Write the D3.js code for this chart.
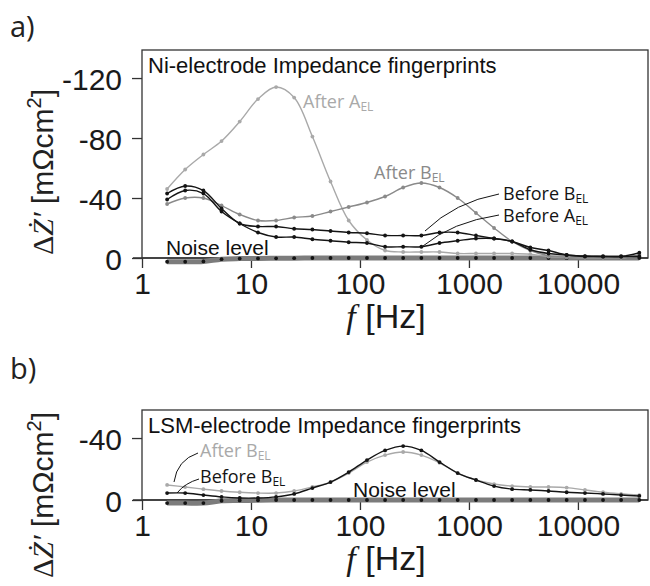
<!DOCTYPE html>
<html>
<head>
<meta charset="utf-8">
<script src="https://cdn.jsdelivr.net/npm/d3@7"></script>
<style>
  body { margin: 0; background: #fff; }
  svg { display: block; }
</style>
</head>
<body>
<svg id="chart" width="650" height="586"></svg>
<script>
// measurement frequencies, 6 per decade [Hz]
const freqs = [1.7, 2.49, 3.66, 5.37, 7.88, 11.6, 17.0, 24.9, 36.6, 53.7, 78.8, 116, 170,
  249, 366, 537, 788, 1160, 1700, 2490, 3660, 5370, 7880, 11600, 17000, 24900, 36600];
const xTicks = [1, 10, 100, 1000, 10000];

// panel a) Ni-electrode, dZ' in mOhm cm2
const niAfterA = [-46, -59, -69, -78, -91, -106, -114, -107, -81, -51, -25, -12, -5,
  -4, -4, -4, -3, -3, -3, -3, -2.5, -1, -0.5, 0, 0, 0, -2];
const niAfterB = [-36, -40, -40, -35, -29, -25, -25, -27, -28, -31, -34, -37, -41,
  -47, -50, -47, -40, -30, -20, -11, -5, -1.5, -0.5, 0, 0, 0, -2];
const niBeforeB = [-43, -48, -45, -33, -23, -21, -21, -19.5, -19, -18, -17, -16.5, -15,
  -15, -15, -17, -17, -15, -13, -11, -7, -5, -2, -1.3, -1, -1, -3.5];
const niBeforeA = [-39, -45, -43, -31, -23, -17, -14, -14, -12.5, -11.5, -10.5, -10, -7.5,
  -7.5, -7.5, -10, -11.5, -13, -13, -11, -5.5, -3, -2, -1, -1, -1, -1];
const niNoise = [2.5, 2.5, 2.3, 0.8, 0.4, 0.3, 0.2, 0.1, 0, 0, 0, 0, 0,
  0, 0, 0, 0, 0, 0, 0, 0, 0, 0, 0, 0, 0, 0];
const niTicks = [-120, -80, -40, 0];

// panel b) LSM-electrode
const lsmAfterB = [-9.7, -8.4, -7, -5.8, -5, -4.5, -4.5, -5.8, -8.4, -11.6, -17.4, -24.5, -29,
  -31, -29, -24, -17.4, -12.9, -10.3, -9, -8.4, -8.4, -8, -6.5, -5, -4, -3.2];
const lsmBeforeB = [-4.5, -4.5, -3.2, -2, -1.3, -1.3, -2, -3.9, -7.7, -11.6, -18, -25.8, -32,
  -34.8, -32, -24.5, -17.4, -12.9, -9, -7, -6.5, -5.8, -5, -4.5, -3.9, -3.2, -2.6];
const lsmNoise = [2, 2, 2, 0.5, 0.3, 0.2, 0, 0, 0, 0, 0, 0, 0,
  0, 0, 0, 0, 0, 0, 0, 0, 0, 0, 0, 0, 0, 0];
const lsmTicks = [-40, 0];

const sans = "'Liberation Sans', Arial, sans-serif";
const humanist = "'Open Sans', 'Noto Sans', sans-serif";
const serif = "'Liberation Serif', 'DejaVu Serif', serif";

const lightGray = "#a9a9a9";
const midGray = "#8a8a8a";
const ink = "#141414";

const svg = d3.select("#chart");
const x = d3.scaleLog().domain([1, 43950]).range([142, 648]);

const labelWithSub = (g, px, py, main, sub, color) => {
  const t = g.append("text")
    .attr("x", px)
    .attr("y", py)
    .attr("fill", color)
    .attr("font-family", humanist)
    .attr("font-size", 18);
  t.append("tspan").text(main);
  t.append("tspan").attr("font-size", 12).attr("dy", 3).text(sub);
};

const drawPanel = cfg => {
  const y = d3.scaleLinear().domain([0, cfg.top]).range([cfg.y0, cfg.y1]);
  const g = svg.append("g");
  const [x0, x1] = x.range();

  // panel letter
  g.append("text")
    .attr("x", 10)
    .attr("y", cfg.letterY)
    .attr("font-family", humanist)
    .attr("font-size", 29)
    .attr("fill", "#222")
    .text(cfg.letter);

  // y label
  const yl = g.append("text")
    .attr("transform", `translate(53,${cfg.labelY}) rotate(-90)`)
    .attr("text-anchor", "middle")
    .attr("font-size", 30)
    .attr("fill", "#222");
  yl.append("tspan").attr("font-family", serif).text("Δ");
  yl.append("tspan").attr("font-family", serif).attr("font-style", "italic").text("Ż′");
  yl.append("tspan").attr("font-family", sans).text(" [mΩcm");
  yl.append("tspan").attr("font-family", sans).attr("font-size", 20).attr("dy", -12).text("2");
  yl.append("tspan").attr("font-family", sans).attr("dy", 12).text("]");

  // frame
  g.append("rect")
    .attr("x", x0)
    .attr("y", cfg.y1)
    .attr("width", x1 - x0)
    .attr("height", cfg.y0 - cfg.y1)
    .attr("fill", "none")
    .attr("stroke", "#333")
    .attr("stroke-width", 1.3);

  // axes
  const xAxis = g.append("g")
    .attr("transform", `translate(0,${cfg.y0})`)
    .call(d3.axisBottom(x).tickValues(xTicks).tickFormat(d => String(d))
      .tickSize(10).tickPadding(5).tickSizeOuter(0));
  xAxis.select(".domain").remove();
  g.append("line")
    .attr("x1", x0 - 9).attr("x2", x1)
    .attr("y1", cfg.y0).attr("y2", cfg.y0)
    .attr("stroke", "#333").attr("stroke-width", 1.3);

  const yAxis = g.append("g")
    .attr("transform", `translate(${x0},0)`)
    .call(d3.axisLeft(y).tickValues(cfg.ticks).tickFormat(d => String(d))
      .tickSize(10).tickPadding(10));
  yAxis.select(".domain").remove();

  [xAxis, yAxis].forEach(a => {
    a.selectAll(".tick line").attr("stroke", "#333").attr("stroke-width", 1.3);
    a.selectAll("text")
      .attr("font-family", sans)
      .attr("font-size", 30)
      .attr("fill", "#1a1a1a");
  });
  yAxis.selectAll("text").attr("dy", "0.38em");

  // x label
  const xl = g.append("text")
    .attr("x", 386)
    .attr("y", cfg.y0 + 70)
    .attr("text-anchor", "middle")
    .attr("font-size", 34)
    .attr("fill", "#1a1a1a");
  xl.append("tspan").attr("font-family", serif).attr("font-style", "italic").text("f");
  xl.append("tspan").attr("font-family", sans).text(" [Hz]");

  // title
  g.append("text")
    .attr("x", 148)
    .attr("y", cfg.y1 + 23)
    .attr("font-family", sans)
    .attr("font-size", 22)
    .attr("fill", "#111")
    .text(cfg.title);

  const line = d3.line()
    .x((d, i) => x(freqs[i]))
    .y(d => y(d))
    .curve(d3.curveCatmullRom.alpha(0.5));

  // noise band
  g.append("path")
    .attr("d", line(cfg.noise))
    .attr("fill", "none")
    .attr("stroke", "#7c7c7c")
    .attr("stroke-width", 5);
  g.append("g")
    .selectAll("circle")
    .data(cfg.noise)
    .enter()
    .append("circle")
    .attr("cx", (d, i) => x(freqs[i]))
    .attr("cy", d => y(d))
    .attr("r", 1.9)
    .attr("fill", ink);

  cfg.series.forEach(s => {
    g.append("path")
      .attr("d", line(s.values))
      .attr("fill", "none")
      .attr("stroke", s.color)
      .attr("stroke-width", 1.4);
    g.append("g")
      .selectAll("circle")
      .data(s.values)
      .enter()
      .append("circle")
      .attr("cx", (d, i) => x(freqs[i]))
      .attr("cy", d => y(d))
      .attr("r", 1.9)
      .attr("fill", s.color);
  });

  g.append("text")
    .attr("x", cfg.noiseX)
    .attr("y", cfg.y0 - 3)
    .attr("font-family", sans)
    .attr("font-size", 21)
    .attr("fill", "#111")
    .text("Noise level");

  cfg.labels.forEach(l => {
    labelWithSub(g, l.x, l.y, l.main, l.sub, l.color);
    if (l.leader) {
      g.append("path")
        .attr("d", l.leader)
        .attr("fill", "none")
        .attr("stroke", ink)
        .attr("stroke-width", 1);
    }
  });
};

drawPanel({
  letter: "a)",
  letterY: 37,
  labelY: 172,
  title: "Ni-electrode Impedance fingerprints",
  top: -138.7,
  y0: 258,
  y1: 50,
  ticks: niTicks,
  noise: niNoise,
  noiseX: 166,
  series: [
    { values: niAfterA, color: lightGray },
    { values: niAfterB, color: midGray },
    { values: niBeforeA, color: ink },
    { values: niBeforeB, color: ink }
  ],
  labels: [
    { x: 303, y: 108, main: "After A", sub: "EL", color: lightGray },
    { x: 374, y: 179, main: "After B", sub: "EL", color: midGray },
    { x: 503, y: 200, main: "Before B", sub: "EL", color: ink,
      leader: "M425,231 Q455,202 499,194" },
    { x: 503, y: 222, main: "Before A", sub: "EL", color: ink,
      leader: "M423,246 Q452,222 499,215" }
  ]
});

drawPanel({
  letter: "b)",
  letterY: 379,
  labelY: 495,
  title: "LSM-electrode Impedance fingerprints",
  top: -58.1,
  y0: 500,
  y1: 410,
  ticks: lsmTicks,
  noise: lsmNoise,
  noiseX: 353,
  series: [
    { values: lsmAfterB, color: lightGray },
    { values: lsmBeforeB, color: ink }
  ],
  labels: [
    { x: 200, y: 457, main: "After B", sub: "EL", color: lightGray,
      leader: "M174,482 Q177,460 198,453" },
    { x: 200, y: 483, main: "Before B", sub: "EL", color: ink,
      leader: "M177,493 Q185,483 199,479" }
  ]
});
</script>
</body>
</html>
